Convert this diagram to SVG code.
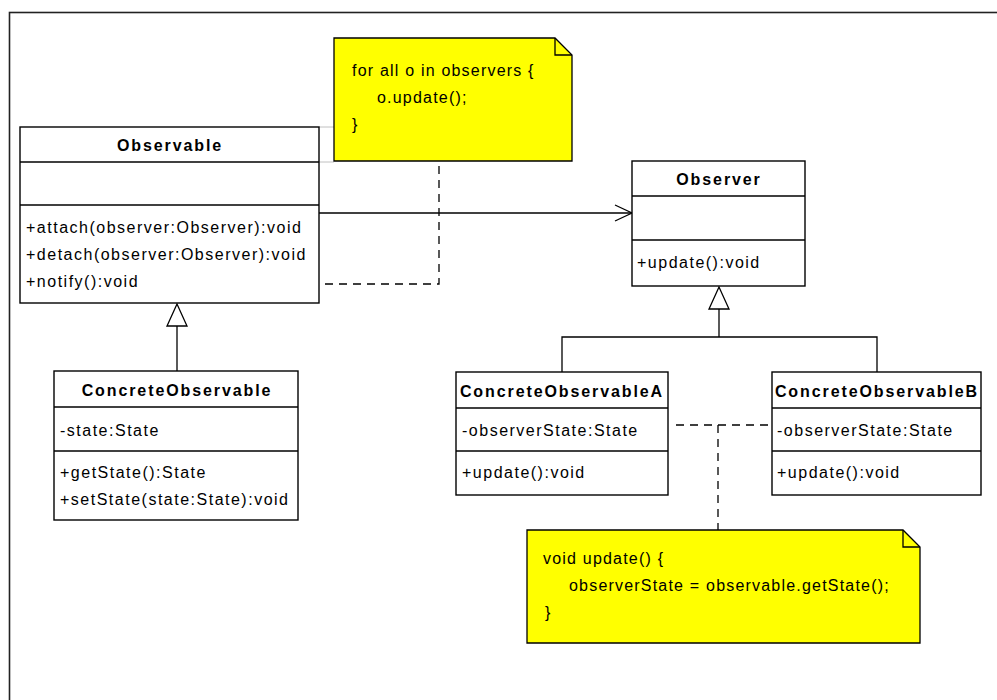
<svg xmlns="http://www.w3.org/2000/svg" width="997" height="700" viewBox="0 0 997 700">
  <style>
    .box { fill: #ffffff; stroke: #000000; stroke-width: 1.4; }
    .div { stroke: #000000; stroke-width: 1.3; fill: none; }
    .note { fill: #ffff00; stroke: #000000; stroke-width: 1.3; }
    .t { font-family: "Liberation Sans", Arial, sans-serif; font-size: 16px; letter-spacing: 1.5px; fill: #000000; }
    .n { font-family: "Liberation Sans", Arial, sans-serif; font-size: 16px; letter-spacing: 1.2px; fill: #000000; }
    .b { font-family: "Liberation Sans", Arial, sans-serif; font-size: 16px; font-weight: bold; letter-spacing: 1.9px; fill: #000000; text-anchor: middle; }
    .line { stroke: #000000; stroke-width: 1.3; fill: none; }
    .dash { stroke: #000000; stroke-width: 1.3; fill: none; stroke-dasharray: 8 6; }
    .faint { stroke: #c0c0c0; stroke-width: 1; fill: none; }
    .tri { fill: #ffffff; stroke: #000000; stroke-width: 1.3; }
  </style>

  <rect width="997" height="700" fill="#ffffff"/>
  <!-- diagram frame -->
  <rect x="9.5" y="12.5" width="1000" height="700" fill="none" stroke="#222222" stroke-width="1.6"/>

  <!-- connectors -->
  <g id="connectors">
    <line class="faint" x1="319" y1="127" x2="334" y2="127"/>
    <line class="faint" x1="319" y1="162" x2="334" y2="162"/>
    <!-- association Observable -> Observer -->
    <line class="line" x1="319" y1="213" x2="631" y2="213"/>
    <polyline class="line" points="615,205 632,213 615,221" stroke-width="1.6"/>
    <!-- generalization ConcreteObservable -> Observable -->
    <line class="line" x1="177" y1="326" x2="177" y2="371"/>
    <polygon class="tri" points="177,304 167,326 187,326"/>
    <!-- generalization ConcreteObservableA/B -> Observer -->
    <polyline class="line" points="562,372 562,337 877,337 877,372"/>
    <line class="line" x1="719" y1="309" x2="719" y2="337"/>
    <polygon class="tri" points="719,287 709,309 729,309"/>
    <!-- note anchors -->
    <polyline class="dash" points="325,284 439,284 439,161"/>
    <line class="dash" x1="676" y1="425" x2="770" y2="425"/>
    <line class="dash" x1="718" y1="425" x2="718" y2="530"/>
  </g>

  <g id="Observable">
    <rect class="box" x="20" y="127" width="299" height="176"/>
    <line class="div" x1="20" y1="162" x2="319" y2="162"/>
    <line class="div" x1="20" y1="205" x2="319" y2="205"/>
    <text class="b" x="170" y="151">Observable</text>
    <text class="t" x="26" y="233">+attach(observer:Observer):void</text>
    <text class="t" x="26" y="260">+detach(observer:Observer):void</text>
    <text class="t" x="26" y="287">+notify():void</text>
  </g>

  <g id="Observer">
    <rect class="box" x="632" y="161" width="173" height="125"/>
    <line class="div" x1="632" y1="196" x2="805" y2="196"/>
    <line class="div" x1="632" y1="240" x2="805" y2="240"/>
    <text class="b" x="719" y="185">Observer</text>
    <text class="t" x="637" y="268">+update():void</text>
  </g>

  <g id="ConcreteObservable">
    <rect class="box" x="54" y="371" width="244" height="149"/>
    <line class="div" x1="54" y1="407" x2="298" y2="407"/>
    <line class="div" x1="54" y1="451" x2="298" y2="451"/>
    <text class="b" x="177" y="396">ConcreteObservable</text>
    <text class="t" x="60" y="436">-state:State</text>
    <text class="t" x="60" y="478">+getState():State</text>
    <text class="t" x="60" y="505">+setState(state:State):void</text>
  </g>

  <g id="ConcreteObservableA">
    <rect class="box" x="456" y="372" width="212" height="123"/>
    <line class="div" x1="456" y1="408" x2="668" y2="408"/>
    <line class="div" x1="456" y1="451" x2="668" y2="451"/>
    <text class="b" x="562" y="397">ConcreteObservableA</text>
    <text class="t" x="462" y="436">-observerState:State</text>
    <text class="t" x="462" y="478">+update():void</text>
  </g>

  <g id="ConcreteObservableB">
    <rect class="box" x="772" y="372" width="209" height="123"/>
    <line class="div" x1="772" y1="408" x2="981" y2="408"/>
    <line class="div" x1="772" y1="451" x2="981" y2="451"/>
    <text class="b" x="877" y="397">ConcreteObservableB</text>
    <text class="t" x="777" y="436">-observerState:State</text>
    <text class="t" x="777" y="478">+update():void</text>
  </g>

  <g id="note-notify">
    <polygon class="note" points="334,38 555,38 572,55 572,161 334,161"/>
    <polyline class="div" points="555,38 555,55 572,55"/>
    <text class="n" x="352" y="76">for all o in observers {</text>
    <text class="n" x="377" y="103">o.update();</text>
    <text class="n" x="352" y="130">}</text>
  </g>

  <g id="note-update">
    <polygon class="note" points="527,530 903,530 920,547 920,643 527,643"/>
    <polyline class="div" points="903,530 903,547 920,547"/>
    <text class="n" x="543" y="564">void update() {</text>
    <text class="n" x="569" y="591">observerState = observable.getState();</text>
    <text class="n" x="545" y="618">}</text>
  </g>
</svg>
